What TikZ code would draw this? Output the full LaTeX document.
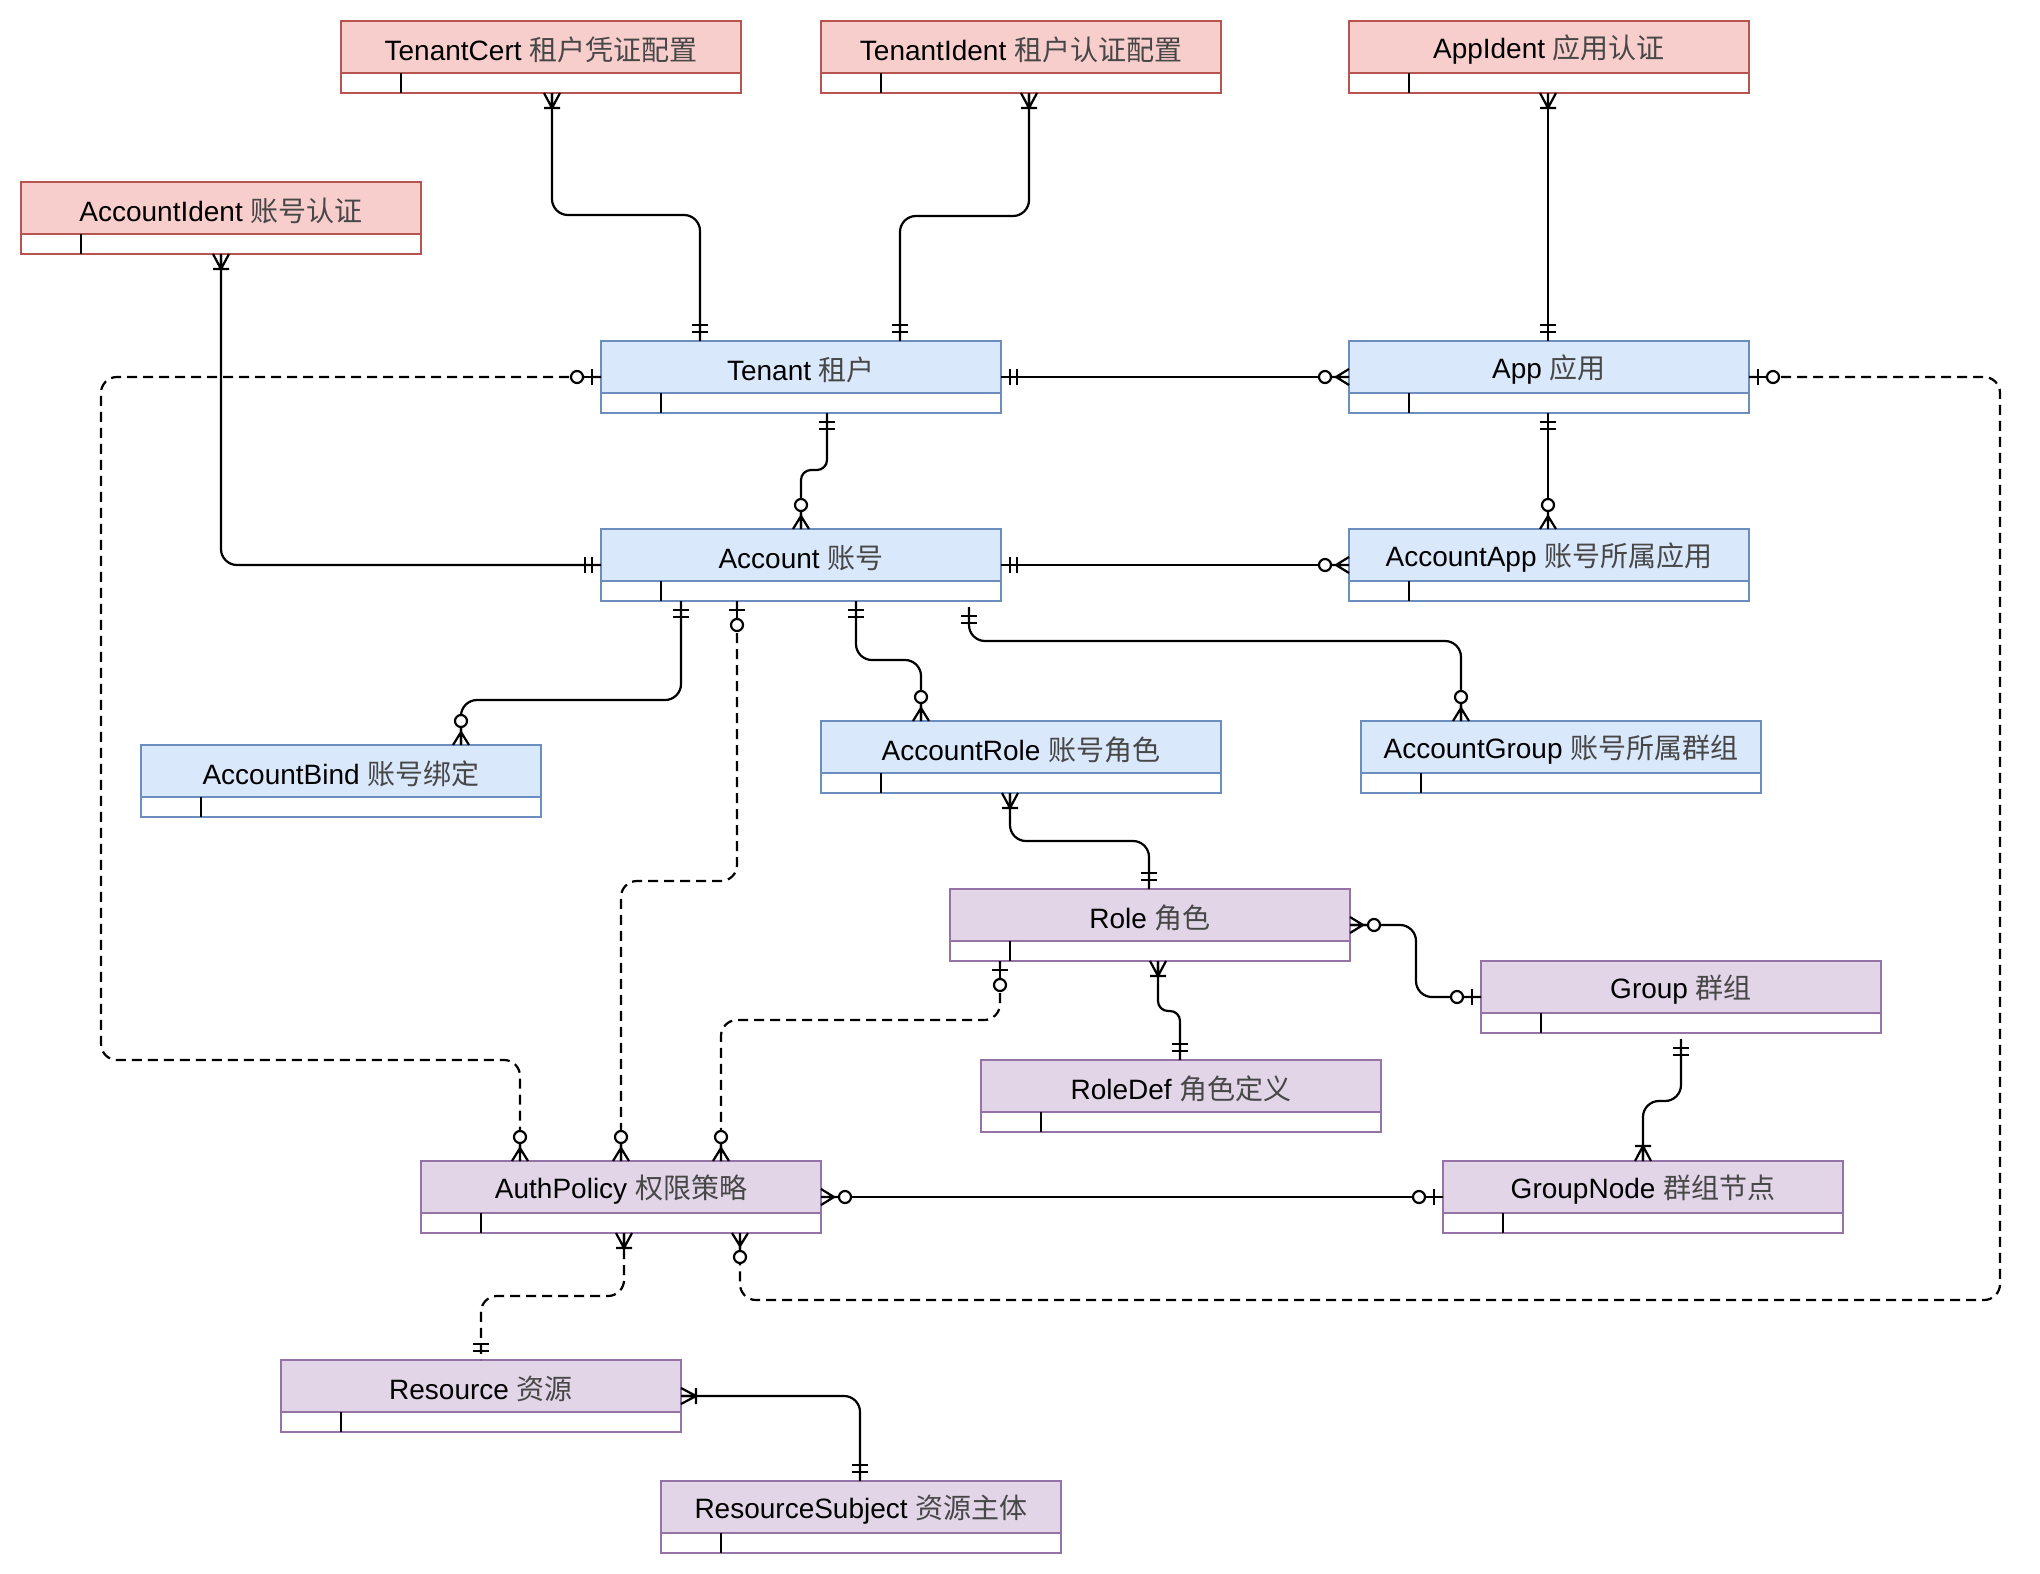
\documentclass[tikz,border=0pt]{standalone}
\usepackage{fontspec}
\setmainfont{Liberation Sans}
\newfontfamily\cjk{Noto Sans CJK SC}
\usetikzlibrary{calc}
\definecolor{redF}{HTML}{F8CECC}
\definecolor{redS}{HTML}{B85450}
\definecolor{blueF}{HTML}{DAE8FC}
\definecolor{blueS}{HTML}{6C8EBF}
\definecolor{purpF}{HTML}{E1D5E7}
\definecolor{purpS}{HTML}{9673A6}
\newcommand\zh[1]{{\cjk\color{black!72}#1}}
\newcommand\entity[5]{%
  \node[entbox, draw=#4S] (#1) at ({#2+200},{#3+36}) {};
  \draw[line width=1pt, draw=#4S, fill=#4F] (#1.north west) rectangle ($(#1.north east)+(0,52)$);
  \draw[tick] ($(#1.north west)+(60,52)$) -- ($(#1.south west)+(60,0)$);
  \node[lbl] (#1-t) at ($(#1.north)+(0,29)$) {#5};
}
\newcommand\erm[3]{\pic[rotate=#3] at (#2) {#1};}
\tikzset{
  entbox/.style={minimum width=200pt, minimum height=36pt, inner sep=0pt, outer sep=0pt, fill=white, line width=1pt},
  lbl/.style={inner sep=0pt, font=\fontsize{14}{16}\selectfont, text=black},
  tick/.style={line width=1pt, black},
  conn/.style={line width=1.1pt, black, rounded corners=8pt},
  dconn/.style={conn, dash pattern=on 5pt off 3pt},
  mk/.style={line width=1.1pt, black, solid, sharp corners},
  mandone/.pic={\draw[mk] (9,-8)--(9,8) (16,-8)--(16,8);},
  onemany/.pic={\draw[mk] (0,-8)--(15,0)--(0,8) (15,-8)--(15,8) (0,0)--(15,0);},
  zeromany/.pic={\draw[mk] (0,-8)--(13,0)--(0,8) (0,0)--(18,0); \draw[mk,fill=white] (24,0) circle[radius=3pt];},
  zeroone/.pic={\draw[mk] (9,-8)--(9,8) (0,0)--(18,0); \draw[mk,fill=white] (24,0) circle[radius=3pt];},
}
\begin{document}
\begin{tikzpicture}[x=0.5pt,y=-0.5pt]
\fill[white] (0,0) rectangle (2040,1574);
\useasboundingbox (0,0) rectangle (2040,1574);
% entities
\entity{TC}{341}{21}{red}{TenantCert \zh{租户凭证配置}}
\entity{TI}{821}{21}{red}{TenantIdent \zh{租户认证配置}}
\entity{AI}{1349}{21}{red}{AppIdent \zh{应用认证}}
\entity{AcI}{21}{182}{red}{AccountIdent \zh{账号认证}}
\entity{Ten}{601}{341}{blue}{Tenant \zh{租户}}
\entity{App}{1349}{341}{blue}{App \zh{应用}}
\entity{Acc}{601}{529}{blue}{Account \zh{账号}}
\entity{AA}{1349}{529}{blue}{AccountApp \zh{账号所属应用}}
\entity{AB}{141}{745}{blue}{AccountBind \zh{账号绑定}}
\entity{AR}{821}{721}{blue}{AccountRole \zh{账号角色}}
\entity{AG}{1361}{721}{blue}{AccountGroup \zh{账号所属群组}}
\entity{Role}{950}{889}{purp}{Role \zh{角色}}
\entity{Grp}{1481}{961}{purp}{Group \zh{群组}}
\entity{RD}{981}{1060}{purp}{RoleDef \zh{角色定义}}
\entity{AP}{421}{1161}{purp}{AuthPolicy \zh{权限策略}}
\entity{GN}{1443}{1161}{purp}{GroupNode \zh{群组节点}}
\entity{Res}{281}{1360}{purp}{Resource \zh{资源}}
\entity{RS}{661}{1481}{purp}{ResourceSubject \zh{资源主体}}
% endpoints
\coordinate (c1s) at ($(TC.south west)+(211,0)$);
\coordinate (c1e) at ($(Ten.north west)+(99,0)$);
\coordinate (c2s) at ($(TI.south west)+(208,0)$);
\coordinate (c2e) at ($(Ten.north west)+(299,0)$);
\coordinate (c3s) at ($(AI.south west)+(199,0)$);
\coordinate (c3e) at ($(App.north west)+(199,0)$);
\coordinate (c4s) at ($(AcI.south west)+(200,0)$);
\coordinate (c5e) at ($(AP.north west)+(99,0)$);
\coordinate (c7s) at ($(Ten.south west)+(226,0)$);
\coordinate (c8e) at ($(AP.south west)+(319,0)$);
\coordinate (c9s) at ($(App.south west)+(199,0)$);
\coordinate (c9e) at ($(AA.north west)+(199,0)$);
\coordinate (c11s) at ($(Acc.south west)+(80,0)$);
\coordinate (c11e) at ($(AB.north west)+(320,0)$);
\coordinate (c12s) at ($(Acc.south west)+(136,0)$);
\coordinate (c12e) at ($(AP.north west)+(200,0)$);
\coordinate (c13s) at ($(Acc.south west)+(255,0)$);
\coordinate (c13e) at ($(AR.north west)+(100,0)$);
\coordinate (c14s) at ($(Acc.south west)+(368,6)$);
\coordinate (c14e) at ($(AG.north west)+(100,0)$);
\coordinate (c15s) at ($(AR.south west)+(189,0)$);
\coordinate (c15e) at ($(Role.north west)+(199,0)$);
\coordinate (c17s) at ($(Role.south west)+(208,0)$);
\coordinate (c17e) at ($(RD.north west)+(199,0)$);
\coordinate (c18s) at ($(Role.south west)+(50,0)$);
\coordinate (c18e) at ($(AP.north west)+(300,0)$);
\coordinate (c19s) at ($(Grp.south west)+(200,6)$);
\coordinate (c19e) at ($(GN.north west)+(200,0)$);
\coordinate (c21s) at ($(AP.south west)+(203,0)$);
\coordinate (c21e) at ($(Res.north west)+(200,0)$);
\coordinate (c22e) at ($(RS.north west)+(199,0)$);
% connectors
\draw[conn] (c1s) -- ++(0,122) -| (c1e);
\draw[conn] (c2s) -- ++(0,123) -| (c2e);
\draw[conn] (c3s) -- (c3e);
\draw[conn] (c4s) |- (Acc.west);
\draw[dconn] (Ten.west) -- ++(-500,0) -- ++(0,683) -| (c5e);
\draw[conn] (Ten.east) -- (App.west);
\draw[conn, rounded corners=5pt] (c7s) -- ++(0,57) -| (Acc.north);
\draw[dconn] (App.east) -- ++(251,0) -- ++(0,923) -| (c8e);
\draw[conn] (c9s) -- (c9e);
\draw[conn] (Acc.east) -- (AA.west);
\draw[conn] (c11s) -- ++(0,99) -| (c11e);
\draw[dconn] (c12s) -- ++(0,280) -| (c12e);
\draw[conn] (c13s) -- ++(0,59) -| (c13e);
\draw[conn] (c14s) -- ++(0,34) -| (c14e);
\draw[conn] (c15s) -- ++(0,48) -| (c15e);
\draw[conn] (Role.east) -- ++(66,0) |- (Grp.west);
\draw[conn, rounded corners=5pt] (c17s) -- ++(0,50) -| (c17e);
\draw[dconn] (c18s) -- ++(0,59) -| (c18e);
\draw[conn] (c19s) -- ++(0,62) -| (c19e);
\draw[conn] (AP.east) -- (GN.west);
\draw[dconn] (c21s) -- ++(0,63) -| (c21e);
\draw[conn] (Res.east) -| (c22e);
% markers
\erm{onemany}{c1s}{-90} \erm{mandone}{c1e}{90}
\erm{onemany}{c2s}{-90} \erm{mandone}{c2e}{90}
\erm{onemany}{c3s}{-90} \erm{mandone}{c3e}{90}
\erm{onemany}{c4s}{-90} \erm{mandone}{Acc.west}{180}
\erm{zeroone}{Ten.west}{180} \erm{zeromany}{c5e}{90}
\erm{mandone}{Ten.east}{0} \erm{zeromany}{App.west}{180}
\erm{mandone}{c7s}{-90} \erm{zeromany}{Acc.north}{90}
\erm{zeroone}{App.east}{0} \erm{zeromany}{c8e}{-90}
\erm{mandone}{c9s}{-90} \erm{zeromany}{c9e}{90}
\erm{mandone}{Acc.east}{0} \erm{zeromany}{AA.west}{180}
\erm{mandone}{c11s}{-90} \erm{zeromany}{c11e}{90}
\erm{zeroone}{c12s}{-90} \erm{zeromany}{c12e}{90}
\erm{mandone}{c13s}{-90} \erm{zeromany}{c13e}{90}
\erm{mandone}{c14s}{-90} \erm{zeromany}{c14e}{90}
\erm{onemany}{c15s}{-90} \erm{mandone}{c15e}{90}
\erm{zeromany}{Role.east}{0} \erm{zeroone}{Grp.west}{180}
\erm{onemany}{c17s}{-90} \erm{mandone}{c17e}{90}
\erm{zeroone}{c18s}{-90} \erm{zeromany}{c18e}{90}
\erm{mandone}{c19s}{-90} \erm{onemany}{c19e}{90}
\erm{zeromany}{AP.east}{0} \erm{zeroone}{GN.west}{180}
\erm{onemany}{c21s}{-90} \erm{mandone}{c21e}{90}
\erm{onemany}{Res.east}{0} \erm{mandone}{c22e}{90}
\end{tikzpicture}
\end{document}
